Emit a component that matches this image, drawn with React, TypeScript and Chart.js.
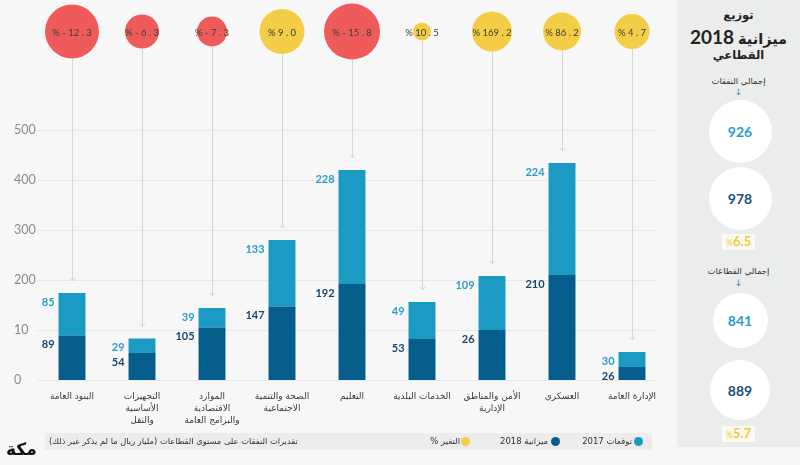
import React, { useEffect, useRef } from "react";
import { Chart, registerables } from "chart.js";

Chart.register(...registerables);

// ---------- data ----------
const categories: (string | string[])[] = [
  "البنود العامة",
  ["التجهيزات", "الأساسية", "والنقل"],
  ["الموارد", "الاقتصادية", "والبرامج العامة"],
  ["الصحة والتنمية", "الاجتماعية"],
  "التعليم",
  "الخدمات البلدية",
  ["الأمن والمناطق", "الإدارية"],
  "العسكري",
  "الإدارة العامة",
];
// bar heights as read on the axis
const budget2018 = [89, 54, 105, 147, 192, 82, 100, 210, 26];
const forecast2017 = [85, 29, 39, 133, 228, 74, 108, 224, 30];
// numbers printed beside the bars
const budget2018Labels = ["89", "54", "105", "147", "192", "53", "26", "210", "26"];
const forecast2017Labels = ["85", "29", "39", "133", "228", "49", "109", "224", "30"];
const changePct = [-12.3, -6.3, -7.3, 9.0, -15.8, 10.5, 169.2, 86.2, 4.7];
const bubbleRadius = [27, 17, 15, 22.5, 28, 9, 20, 19, 17.5];
const yTickValues = [0, 100, 200, 300, 400, 500];
const yTickLabels = ["0", "10", "200", "300", "400", "500"];
const BUBBLE_LEVEL = 697;
const Y_MAX = 760;

const totals = { spend2017: "926", spend2018: "978", spendChange: "6.5", sect2017: "841", sect2018: "889", sectChange: "5.7" };

const LIGHT = "#1b9ac3";
const DARK = "#055d8b";
const RED = "#ef5b5a";
const YELLOW = "#f4cd46";
const FONT = "Lato, 'DejaVu Sans', sans-serif";

function fmtPct(v: number): string {
  const p = Math.abs(v).toFixed(1).split(".");
  return v < 0 ? `% - ${p[0]} . ${p[1]}` : `% ${p[0]} . ${p[1]}`;
}

const decorPlugin = {
  id: "decor",
  beforeDatasetsDraw(chart: any) {
    const ctx = chart.ctx;
    const xs = chart.scales.x;
    const ys = chart.scales.y;
    const yb = chart.scales.yb;
    const area = chart.chartArea;
    const lightMeta = chart.getDatasetMeta(1);
    ctx.save();
    // horizontal grid
    ctx.strokeStyle = "#e8e8e8";
    ctx.lineWidth = 1;
    yTickValues.forEach((v) => {
      const y = Math.round(ys.getPixelForValue(v)) + 0.5;
      ctx.beginPath();
      ctx.moveTo(area.left, y);
      ctx.lineTo(area.right - 10, y);
      ctx.stroke();
    });
    // connector arrows
    ctx.strokeStyle = "#d4d4d4";
    categories.forEach((_, i) => {
      const x = Math.round(xs.getPixelForValue(i)) + 0.5;
      const y0 = yb.getPixelForValue(BUBBLE_LEVEL) + bubbleRadius[i];
      const y1 = lightMeta.data[i].y - 12;
      ctx.beginPath();
      ctx.moveTo(x, y0);
      ctx.lineTo(x, y1);
      ctx.stroke();
      ctx.beginPath();
      ctx.moveTo(x - 2.5, y1 - 3);
      ctx.lineTo(x, y1);
      ctx.lineTo(x + 2.5, y1 - 3);
      ctx.stroke();
    });
    ctx.restore();
  },
  afterDatasetsDraw(chart: any) {
    const ctx = chart.ctx;
    ctx.save();
    const specs = [
      { idx: 0, labels: budget2018Labels, color: "#16476b" },
      { idx: 1, labels: forecast2017Labels, color: "#2a9dc9" },
    ];
    ctx.font = `bold 11px ${FONT}`;
    ctx.textAlign = "right";
    ctx.textBaseline = "middle";
    specs.forEach((s) => {
      const meta = chart.getDatasetMeta(s.idx);
      meta.data.forEach((el: any, i: number) => {
        ctx.fillStyle = s.color;
        ctx.fillText(s.labels[i], el.x - el.width / 2 - 4, el.y + 9);
      });
    });
    const bm = chart.getDatasetMeta(2);
    ctx.font = `9.5px ${FONT}`;
    ctx.textAlign = "center";
    ctx.fillStyle = "#3a3a3a";
    bm.data.forEach((el: any, i: number) => {
      ctx.fillText(fmtPct(changePct[i]), el.x, el.y + 1);
    });
    ctx.restore();
  },
};

export default function App() {
  const ref = useRef<HTMLCanvasElement>(null);

  useEffect(() => {
    if (!ref.current) return;
    Chart.defaults.font.family = FONT;
    const chart = new Chart(ref.current, {
      type: "bar",
      data: {
        labels: categories as any,
        datasets: [
          {
            label: "ميزانية 2018",
            data: budget2018,
            backgroundColor: DARK,
            stack: "s",
            barPercentage: 0.77,
            categoryPercentage: 0.5,
            yAxisID: "y",
          } as any,
          {
            label: "توقعات 2017",
            data: forecast2017,
            backgroundColor: LIGHT,
            stack: "s",
            barPercentage: 0.77,
            categoryPercentage: 0.5,
            yAxisID: "y",
          } as any,
          {
            type: "bubble",
            label: "التغير %",
            data: changePct.map((_, i) => ({ x: i, y: BUBBLE_LEVEL, r: bubbleRadius[i] })),
            backgroundColor: changePct.map((v) => (v < 0 ? RED : YELLOW)),
            borderWidth: 0,
            hoverRadius: 0,
            yAxisID: "yb",
            clip: false,
          } as any,
        ],
      },
      options: {
        animation: false,
        responsive: false,
        devicePixelRatio: 1,
        events: [],
        layout: { autoPadding: false, padding: { left: 14, right: 133, top: 0, bottom: 30 } },
        plugins: {
          legend: { display: false },
          tooltip: { enabled: false },
        },
        scales: {
          x: {
            stacked: true,
            grid: { display: false, drawTicks: false },
            border: { display: false },
            ticks: {
              autoSkip: false,
              maxRotation: 0,
              minRotation: 0,
              padding: 11,
              color: "#3a3a3a",
              font: { size: 9, family: "'DejaVu Sans', sans-serif", lineHeight: 1.3 },
            },
            afterFit: (s: any) => {
              s.height = 55;
              s.paddingLeft = 0;
              s.paddingRight = 0;
            },
          },
          y: {
            stacked: true,
            min: 0,
            max: Y_MAX,
            grid: { display: false, drawTicks: false },
            border: { display: false },
            afterBuildTicks: (s: any) => {
              s.ticks = yTickValues.map((v) => ({ value: v }));
            },
            ticks: {
              crossAlign: "far",
              padding: 0,
              color: "#8a8a8a",
              font: { size: 12.5 },
              callback: (v: any) => {
                const k = yTickValues.indexOf(Number(v));
                return k >= 0 ? yTickLabels[k] : "";
              },
            },
            afterFit: (s: any) => {
              s.width = 23;
              s.paddingTop = 0;
              s.paddingBottom = 0;
            },
          },
          yb: {
            display: false,
            min: 0,
            max: Y_MAX,
          },
        },
      },
      plugins: [decorPlugin],
    } as any);
    return () => chart.destroy();
  }, []);

  const abs = (o: React.CSSProperties): React.CSSProperties => ({ position: "absolute", ...o });
  const centered = (y: number, extra: React.CSSProperties): React.CSSProperties =>
    abs({ left: 0, width: 123, top: y, transform: "translateY(-50%)", textAlign: "center", whiteSpace: "nowrap", ...extra });
  const circle = (cy: number, r: number, text: string, color: string) => (
    <div
      style={abs({
        left: 740 - 677 - r,
        top: cy - r,
        width: r * 2,
        height: r * 2,
        borderRadius: "50%",
        background: "#ffffff",
        display: "flex",
        alignItems: "center",
        justifyContent: "center",
        color,
        fontWeight: 700,
        fontSize: 14,
        fontFamily: FONT,
      })}
    >
      {text}
    </div>
  );
  const pctBox = (cy: number, val: string) => (
    <div style={centered(cy, {})}>
      <span
        style={{
          background: "#fbfaf1",
          padding: "0 4px",
          color: "#f1c93c",
          fontFamily: FONT,
          fontWeight: 700,
          fontSize: 13,
          lineHeight: "15px",
          display: "inline-block",
        }}
      >
        <span style={{ fontSize: 9, fontWeight: 400 }}>%</span>
        {val}
      </span>
    </div>
  );
  const arabic = "'DejaVu Sans', sans-serif";
  const dot = (cx: number, color: string) => (
    <div style={abs({ left: cx - 45 - 4.5, top: 4, width: 9, height: 9, borderRadius: "50%", background: color })} />
  );
  const legText = (right: number, text: string) => (
    <div
      dir="rtl"
      style={abs({ right: 652 - right, top: 0, height: 17, lineHeight: "17px", fontSize: 8.5, fontFamily: arabic, color: "#333", whiteSpace: "nowrap" })}
    >
      {text}
    </div>
  );

  return (
    <div style={{ position: "fixed", left: 0, top: 0, width: 800, height: 465, background: "#f7f7f7", overflow: "hidden" }}>
      <canvas ref={ref} width={800} height={465} style={{ display: "block", position: "absolute", left: 0, top: 0 }} />

      {/* right summary panel */}
      <div style={abs({ left: 677, top: 0, width: 123, height: 447, background: "#ebecec", color: "#222" })}>
        <div style={centered(15, { fontFamily: arabic, fontWeight: 700, fontSize: 11.5 })} dir="rtl">توزيع</div>
        <div style={centered(36, { fontWeight: 700 })} dir="rtl">
          <span style={{ fontFamily: arabic, fontSize: 14.5 }}>ميزانية</span>{" "}
          <span style={{ fontFamily: "Lato, sans-serif", fontSize: 19 }}>2018</span>
        </div>
        <div style={centered(55, { fontFamily: arabic, fontWeight: 700, fontSize: 11.5 })} dir="rtl">القطاعي</div>
        <div style={centered(81, { fontFamily: arabic, fontSize: 8.5, color: "#333" })} dir="rtl">إجمالي النفقات</div>
        <div style={centered(92, { fontSize: 9, color: "#3b8dbb", fontFamily: arabic })}>↓</div>
        {circle(131, 31.5, totals.spend2017, "#2a9cc8")}
        {circle(198.5, 31.5, totals.spend2018, "#17507a")}
        {pctBox(241, totals.spendChange)}
        <div style={centered(271, { fontFamily: arabic, fontSize: 8.5, color: "#333" })} dir="rtl">إجمالي القطاعات</div>
        <div style={centered(283, { fontSize: 9, color: "#3b8dbb", fontFamily: arabic })}>↓</div>
        {circle(320.5, 27.5, totals.sect2017, "#2a9cc8")}
        {circle(390, 30, totals.sect2018, "#17507a")}
        {pctBox(433, totals.sectChange)}
      </div>

      {/* legend strip */}
      <div style={abs({ left: 45, top: 433, width: 607, height: 17, background: "#ececec" })}>
        <div
          dir="rtl"
          style={abs({ left: 4, top: 0, height: 17, lineHeight: "17px", fontSize: 8.3, fontFamily: arabic, color: "#333", whiteSpace: "nowrap" })}
        >
          تقديرات النفقات على مستوى القطاعات (مليار ريال ما لم يذكر غير ذلك)
        </div>
        {dot(638, LIGHT)}
        {legText(632, "توقعات 2017")}
        {dot(555, DARK)}
        {legText(548, "ميزانية 2018")}
        {dot(465, YELLOW)}
        {legText(460, "التغير %")}
      </div>

      {/* logo */}
      <div style={abs({ left: 6, top: 440, fontFamily: arabic, fontWeight: 900, fontSize: 17, color: "#111", lineHeight: "18px" })}>مكة</div>
    </div>
  );
}
